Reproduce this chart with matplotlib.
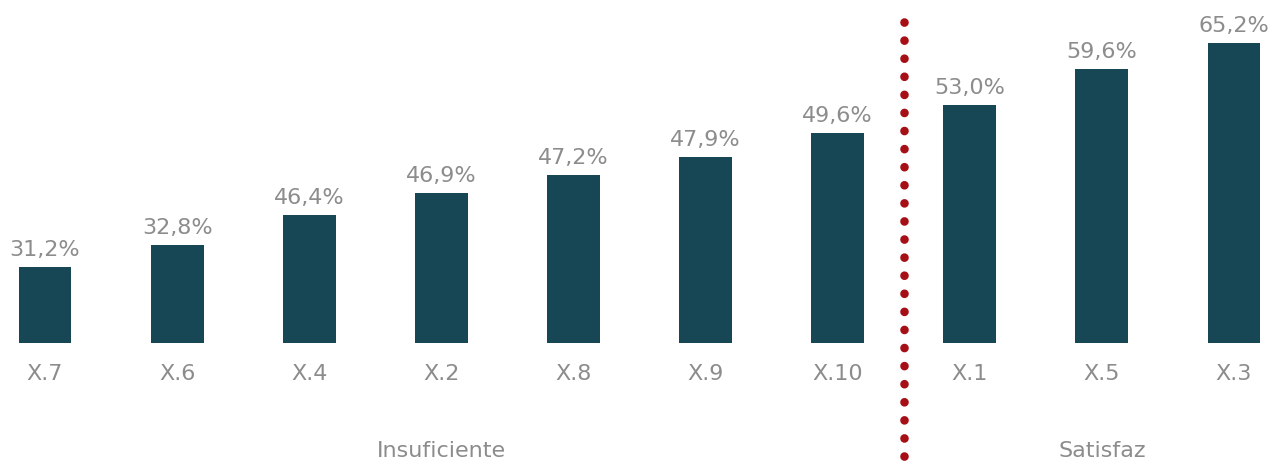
import matplotlib
matplotlib.use("Agg")
import matplotlib.pyplot as plt

# items, ordered as in the chart
items = ["X.7", "X.6", "X.4", "X.2", "X.8", "X.9", "X.10", "X.1", "X.5", "X.3"]
# percentages shown above the bars
pct = [31.2, 32.8, 46.4, 46.9, 47.2, 47.9, 49.6, 53.0, 59.6, 65.2]
# bar lengths as drawn in the original (not proportional to pct)
bar_len = [76, 98, 128, 150, 168, 186, 210, 238, 274, 300]
groups = ["Insuficiente", "Satisfaz"]
group_split = 7  # first item of "Satisfaz"

bar_color = "#174655"
text_color = "#8c8c8c"
dot_color = "#a50f15"

fig = plt.figure(figsize=(12.8, 4.62), dpi=100)
# axes bottom sits on the bar baseline, 1 data unit = 1 px vertically
ax = fig.add_axes([0, 119 / 462, 1, 343 / 462])
ax.set_ylim(0, 343)
ax.set_xlim(-45 / 132.11, (1280 - 45) / 132.11)

x = list(range(len(items)))
bars = ax.bar(x, bar_len, width=0.40, color=bar_color)

for xi, h, v in zip(x, bar_len, pct):
    lab = f"{v:.1f}".replace(".", ",") + "%"
    ax.annotate(lab, (xi, h), xytext=(0, 5), textcoords="offset points",
                ha="center", va="bottom", fontsize=16, color=text_color)

ax.set_xticks(x)
ax.set_xticklabels(items, fontsize=16, color=text_color)
ax.tick_params(axis="x", length=0, pad=15)
ax.set_yticks([])
for s in ax.spines.values():
    s.set_visible(False)

# group labels
n = len(items)
ax.text((0 + group_split - 1) / 2, -108, groups[0], ha="center", va="center",
        fontsize=16, color=text_color, clip_on=False)
ax.text((group_split + n - 1) / 2, -108, groups[1], ha="center", va="center",
        fontsize=16, color=text_color, clip_on=False)

# dotted separator, drawn top to bottom
sep = group_split - 0.5
ax.plot([sep, sep], [321, -115], color=dot_color, linewidth=6.2,
        linestyle=(0, (0.01, 2.09)), dash_capstyle="round", clip_on=False)

fig.savefig("out.png", dpi=100)
